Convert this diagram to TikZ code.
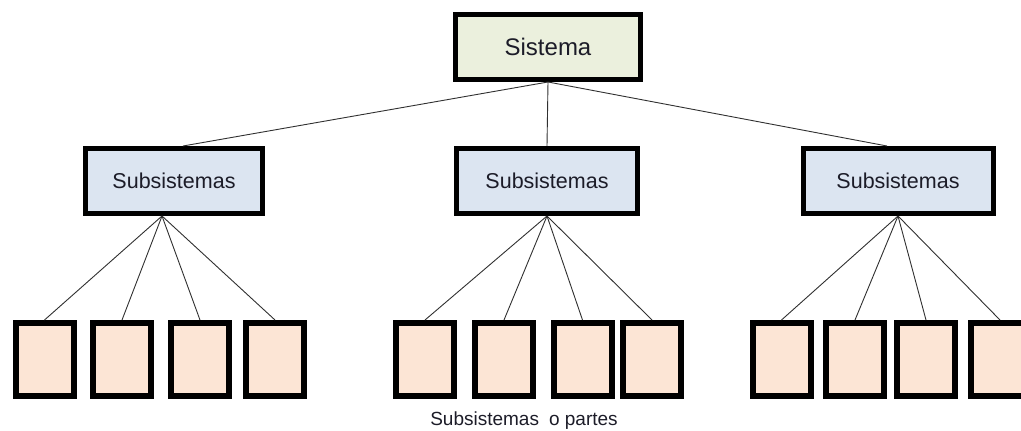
\documentclass[tikz,border=0pt]{standalone}
\usepackage{fontspec}
\setmainfont{Liberation Sans}
\begin{document}
\begin{tikzpicture}[x=1pt,y=-1pt,
  topbox/.style={draw=black,line width=5pt,fill=sysfill,inner sep=0pt,
    minimum width=185pt,minimum height=65pt,text=txt,
    font=\fontsize{24}{28}\selectfont},
  subbox/.style={draw=black,line width=5pt,fill=subfill,inner sep=0pt,
    minimum width=177pt,minimum height=65pt,text=txt,
    font=\fontsize{21.5}{26}\selectfont},
  leaf/.style={draw=black,line width=6pt,fill=leaffill,inner sep=0pt,
    minimum width=58pt,minimum height=73pt},
  link/.style={draw=linkc,line width=0.9pt}]
\definecolor{sysfill}{HTML}{EBF0DD}
\definecolor{subfill}{HTML}{DCE5F1}
\definecolor{leaffill}{HTML}{FCE5D5}
\definecolor{txt}{HTML}{1C1C28}
\definecolor{linkc}{HTML}{303030}
\useasboundingbox (0,0) rectangle (1021,431);
\clip (0,0) rectangle (1021,431);

% top level
\node[topbox] (sys) at (548,47) {Sistema};

% subsystems
\node[subbox] (s1) at (174,181) {Subsistemas};
\node[subbox,minimum width=181pt] (s2) at (547,181) {Subsistemas};
\node[subbox,minimum width=190pt] (s3) at (898,181) {Subsistemas};

% parts
\foreach \n/\x in {a1/44.5,a2/122,a3/200,a4/275,
                   b1/425,b2/504,b3/582.5,b4/652,
                   c1/781.5,c2/855,c3/926,c4/1000}
  \node[leaf] (\n) at (\x,359.5) {};

% connectors
\draw[link] (sys.south) -- ([xshift=9pt]s1.north);
\draw[link] (sys.south) -- (s2.north);
\draw[link] (sys.south) -- ([xshift=-11pt]s3.north);

\coordinate (p1) at ([xshift=-12pt]s1.south);
\foreach \n in {a1,a2,a3,a4} \draw[link] (p1) -- (\n.north);
\foreach \n in {b1,b2,b3,b4} \draw[link] (s2.south) -- (\n.north);
\foreach \n in {c1,c2,c3,c4} \draw[link] (s3.south) -- (\n.north);

% caption
\node[text=txt,font=\fontsize{19}{23}\selectfont] (cap) at (524,421)
  {Subsistemas\hspace{0.25em} o partes};
\end{tikzpicture}
\end{document}
